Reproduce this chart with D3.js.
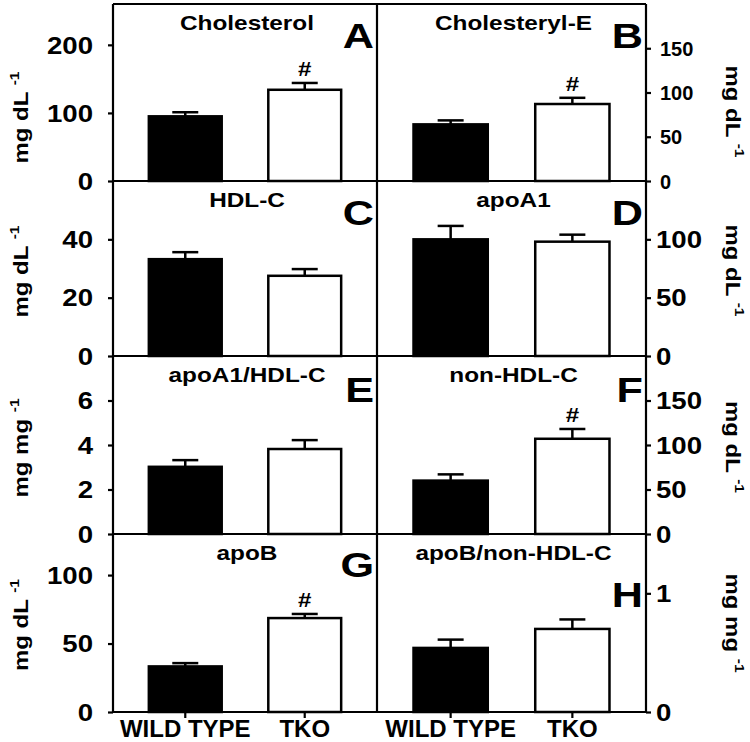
<!DOCTYPE html>
<html><head><meta charset="utf-8">
<script src="https://cdn.jsdelivr.net/npm/d3@7"></script>
<style>
body{margin:0;background:#fff}
text{font-family:"Liberation Sans",Arial,sans-serif;font-weight:bold;fill:#000}
</style></head>
<body><svg id="chart" width="750" height="742"></svg>
<script>
// ---------------- data ----------------
const groups = ["WILD TYPE", "TKO"];
const panelLetters = ["A", "B", "C", "D", "E", "F", "G", "H"];
const panelTitles = ["Cholesterol", "Cholesteryl-E", "HDL-C", "apoA1", "apoA1/HDL-C", "non-HDL-C", "apoB", "apoB/non-HDL-C"];
const cholesterolMean = [95, 134],   cholesterolSem = [6, 10];
const cholesterylEMean = [64, 87],   cholesterylESem = [4.5, 7];
const hdlcMean = [33.2, 27.5],       hdlcSem = [2.4, 2.3];
const apoA1Mean = [100, 98],         apoA1Sem = [11.5, 6];
const apoA1HdlMean = [3.02, 3.82],   apoA1HdlSem = [0.3, 0.4];
const nonHdlMean = [60, 107],        nonHdlSem = [7, 11];
const apoBMean = [33.3, 68.6],       apoBSem = [2.4, 3];
const apoBNonHdlMean = [0.54, 0.70], apoBNonHdlSem = [0.07, 0.08];
const significant = [[false, true], [false, true], [false, false], [false, false],
                     [false, false], [false, true], [false, true], [false, false]];
const yMax = [260, 200, 60, 150, 8, 200, 130, 1.5];
const yTicks = [[0, 100, 200], [0, 50, 100, 150], [0, 20, 40], [0, 50, 100],
                [0, 2, 4, 6], [0, 50, 100, 150], [0, 50, 100], [0, 1]];
const unitMain = ["mg dL", "mg dL", "mg dL", "mg dL", "mg mg", "mg dL", "mg dL", "mg mg"];
const unitSup = "-1";

const means = [cholesterolMean, cholesterylEMean, hdlcMean, apoA1Mean, apoA1HdlMean, nonHdlMean, apoBMean, apoBNonHdlMean];
const sems = [cholesterolSem, cholesterylESem, hdlcSem, apoA1Sem, apoA1HdlSem, nonHdlSem, apoBSem, apoBNonHdlSem];

// ---------------- layout ----------------
const svg = d3.select("#chart");
const colX = [[113, 377], [377, 646]];
const rowY = [4, 181, 356, 534, 712];
const titleShift = [25, 19, 3, 2, 3, 2, 2, 0];      // axis-title vertical shift from panel centre
const letterBase = [44, 44, 44, 44, 46, 46, 43, 73];  // panel letter baseline from panel top
const SW = 2.2;

for (let i = 0; i < 8; i++) {
  const col = i % 2, row = Math.floor(i / 2);
  const [x0, x1] = colX[col];
  const yTop = rowY[row], yBot = rowY[row + 1];
  const x = d3.scaleBand().domain(groups).range([x0, x1]).paddingInner(0.39).paddingOuter(0.3);
  const y = d3.scaleLinear().domain([0, yMax[i]]).range([yBot, yTop]);
  const g = svg.append("g");
  const data = groups.map((k, j) => ({k, m: means[i][j], s: sems[i][j], sig: significant[i][j], j}));

  // error bars (upper only)
  data.forEach(d => {
    const cx = x(d.k) + x.bandwidth() / 2;
    g.append("line").attr("x1", cx).attr("x2", cx).attr("y1", y(d.m)).attr("y2", y(d.m + d.s))
      .attr("stroke", "#000").attr("stroke-width", 2.5);
    g.append("line").attr("x1", cx - 13).attr("x2", cx + 13).attr("y1", y(d.m + d.s)).attr("y2", y(d.m + d.s))
      .attr("stroke", "#000").attr("stroke-width", 2.5);
    if (d.sig) {
      g.append("text").attr("transform", `translate(${cx},${y(d.m + d.s) - 7}) scale(1.15,1)`)
        .attr("text-anchor", "middle").style("font-size", "21px").text("#");
    }
  });
  // bars
  g.selectAll("rect.bar").data(data).join("rect").attr("class", "bar")
    .attr("x", d => x(d.k)).attr("width", x.bandwidth())
    .attr("y", d => y(d.m)).attr("height", d => y(0) - y(d.m))
    .attr("fill", d => d.j === 0 ? "#000" : "#fff")
    .attr("stroke", "#000").attr("stroke-width", 2.5);

  // y axis
  const isB = i === 1;
  const fs = isB ? 20 : 23, sx = isB ? 1.0 : 1.2;
  if (col === 0) {
    const ax = g.append("g").attr("transform", `translate(${x0},0)`)
      .call(d3.axisLeft(y).tickValues(yTicks[i]).tickSize(5).tickSizeOuter(0).tickFormat(d3.format("~g")));
    ax.select(".domain").remove();
    ax.selectAll(".tick line").attr("stroke-width", SW);
    ax.selectAll(".tick text").attr("x", null).attr("dy", "0.36em")
      .attr("transform", `translate(-20,0) scale(${sx},1)`).style("font-size", fs + "px")
      .attr("font-family", null);
  } else {
    const ax = g.append("g").attr("transform", `translate(${x1},0)`)
      .call(d3.axisRight(y).tickValues(yTicks[i]).tickSize(5).tickSizeOuter(0).tickFormat(d3.format("~g")));
    ax.select(".domain").remove();
    ax.selectAll(".tick line").attr("stroke-width", SW);
    ax.selectAll(".tick text").attr("x", null).attr("dy", "0.36em")
      .attr("transform", `translate(${isB ? 14 : 10},0) scale(${sx},1)`).style("font-size", fs + "px")
      .attr("font-family", null);
  }

  // bottom axis for bottom row
  if (row === 3) {
    const bx = g.append("g").attr("transform", `translate(0,${yBot})`)
      .call(d3.axisBottom(x).tickSize(6).tickSizeOuter(0).tickPadding(2));
    bx.select(".domain").remove();
    bx.selectAll(".tick line").attr("stroke-width", SW);
    bx.selectAll(".tick text").style("font-size", "24px").attr("font-family", null);
  }

  // panel title
  const cxp = (x0 + x1) / 2 + 2;
  g.append("text").attr("transform", `translate(${cxp},${yTop + 26}) scale(1.16,1)`)
    .attr("text-anchor", "middle").style("font-size", "21px").text(panelTitles[i]);
  // panel letter
  g.append("text").attr("transform", `translate(${x1 - 3},${yTop + letterBase[i]}) scale(1.2,1)`)
    .attr("text-anchor", "end").style("font-size", "36px").text(panelLetters[i]);

  // axis title
  const cy = (yTop + yBot) / 2 + titleShift[i];
  const t = g.append("text").attr("text-anchor", "middle").style("font-size", "20px")
    .attr("transform", col === 0
      ? `translate(28,${cy}) rotate(-90) scale(1.2,1)`
      : `translate(726,${cy}) rotate(90) scale(1.2,1)`);
  t.append("tspan").text(unitMain[i] + " ");
  t.append("tspan").attr("dy", -9).style("font-size", "13px").text(unitSup);
}

// frame lines
const fr = svg.append("g").attr("stroke", "#000").attr("stroke-width", SW);
[113, 377, 646].forEach(xv => fr.append("line").attr("x1", xv).attr("x2", xv).attr("y1", rowY[0]).attr("y2", rowY[4]));
rowY.forEach(yv => fr.append("line").attr("x1", 113).attr("x2", 646).attr("y1", yv).attr("y2", yv));
</script></body></html>
